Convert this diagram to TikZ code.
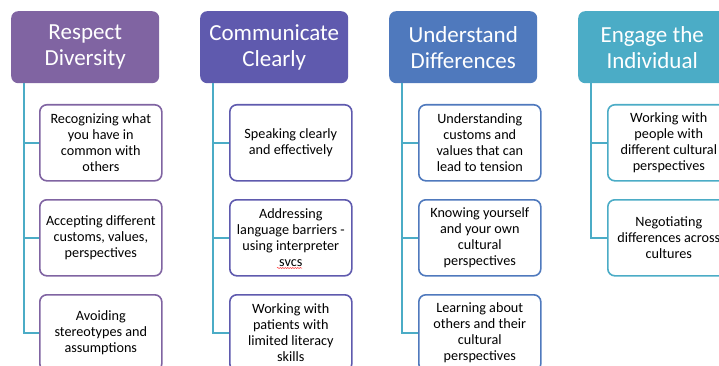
\documentclass[tikz,border=0pt]{standalone}
\usepackage{fontspec}
\setmainfont{Carlito}
\usetikzlibrary{decorations.pathmorphing}
\definecolor{cA}{HTML}{8064A2}
\definecolor{cB}{HTML}{5F5AAE}
\definecolor{cC}{HTML}{4F79BD}
\definecolor{cD}{HTML}{4BACC6}
\definecolor{lineC}{HTML}{4BACC6}
\tikzset{
  head/.style={rounded corners=7pt, minimum width=148pt, minimum height=72pt, inner sep=0pt,
    text=white, align=center, font=\fontsize{23}{26}\selectfont, anchor=north west},
  child/.style={rounded corners=7pt, draw, line width=1.6pt, fill=white, minimum width=122pt,
    minimum height=76pt, inner sep=0pt, text=black, align=center,
    font=\fontsize{14.2}{16}\selectfont, anchor=north west},
  conn/.style={draw=lineC, line width=1.6pt},
}
\begin{document}
\begin{tikzpicture}[x=1pt,y=-1pt]
\useasboundingbox (0,0) rectangle (719,366);
\clip (0,0) rectangle (719,366);
% column 1
\node[head, fill=cA] (h1) at (11,11) {Respect\\Diversity};
\node[child, draw=cA] (a1) at (39,104) {Recognizing what\\you have in\\common with\\others};
\node[child, draw=cA] (a2) at (39,199) {Accepting different\\customs, values,\\perspectives};
\node[child, draw=cA] (a3) at (39,294) {Avoiding\\stereotypes and\\assumptions};
% column 2
\node[head, fill=cB] (h2) at (200,11) {Communicate\\Clearly};
\node[child, draw=cB] (b1) at (229,104) {Speaking clearly\\and effectively};
\node[child, draw=cB] (b2) at (229,199) {Addressing\\language barriers -\\using interpreter\\svcs};
\node[child, draw=cB] (b3) at (229,294) {Working with\\patients with\\limited literacy\\skills};
% column 3
\node[head, fill=cC] (h3) at (389,11) {Understand\\Differences};
\node[child, draw=cC] (c1) at (418,104) {Understanding\\customs and\\values that can\\lead to tension};
\node[child, draw=cC] (c2) at (418,199) {Knowing yourself\\and your own\\cultural\\perspectives};
\node[child, draw=cC] (c3) at (418,294) {Learning about\\others and their\\cultural\\perspectives};
% column 4
\node[head, fill=cD] (h4) at (578,11) {Engage the\\Individual};
\node[child, draw=cD] (d1) at (607,104) {Working with\\people with\\different cultural\\perspectives};
\node[child, draw=cD] (d2) at (607,199) {Negotiating\\differences across\\cultures};
% connectors
\foreach \h/\c/\n in {h1/a/3, h2/b/3, h3/c/3, h4/d/2}{
  \draw[conn] ([xshift=13pt]\h.south west) |- (\c\n.west);
  \draw[conn] ([xshift=13pt]\h.south west |- \c1.west) -- (\c1.west);
  \draw[conn] ([xshift=13pt]\h.south west |- \c2.west) -- (\c2.west);
}
% spell-check squiggle under svcs
\coordinate (sq1) at (277,268);
\coordinate (sq2) at (302,268);
\draw[red!80, line width=0.5pt, decorate, decoration={snake, amplitude=0.6pt, segment length=2.5pt}] (sq1) -- (sq2);
\end{tikzpicture}
\end{document}
